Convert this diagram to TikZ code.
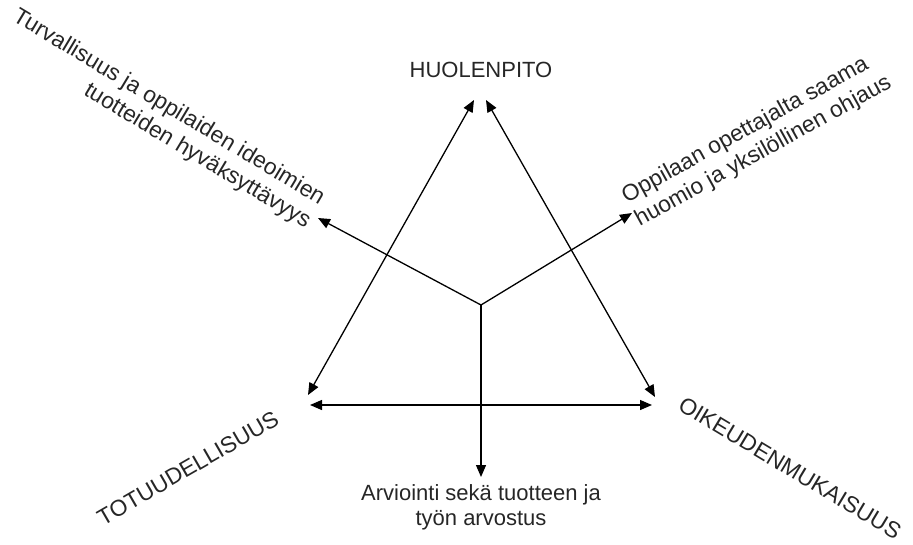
\documentclass[tikz,border=0pt]{standalone}
\usepackage{fontspec}
\setmainfont{Liberation Sans}
\usetikzlibrary{arrows.meta}

\begin{document}
\begin{tikzpicture}[x=1pt, y=-1pt, line width=1.3pt,
    tip/.style={-{Triangle[length=12pt,width=10pt]}},
    twotips/.style={{Triangle[length=12pt,width=10pt]}-{Triangle[length=12pt,width=10pt]}},
    lbl/.style={font={\fontsize{22}{27}\selectfont}, text=black!85, inner sep=0pt},
    slant/.style={lbl, font={\fontsize{22.8}{27}\selectfont}}]
    \useasboundingbox (0,0) rectangle (913,544);
    % triangle corners and arrow ends
    \coordinate (apexL) at (474,100);
    \coordinate (apexR) at (486,100);
    \coordinate (cornerL) at (308,395);
    \coordinate (cornerR) at (655,397);
    \coordinate (baseL) at (310,405);
    \coordinate (baseR) at (652,405);
    \coordinate (hub) at (481,305);
    \coordinate (safeEnd) at (318,218);
    \coordinate (guideEnd) at (632,213);
    \coordinate (assessEnd) at (481,477);
    % labels
    \node[lbl] (care) at (481,70) {HUOLENPITO};
    \node[slant, rotate=30] (truth) at (188,468) {TOTUUDELLISUUS};
    \node[slant, rotate=-31] (fair) at (790,468) {OIKEUDENMUKAISUUS};
    \node[slant, rotate=-31, align=right, anchor=east] (safe) at (316,212)
        {Turvallisuus ja oppilaiden ideoimien\\tuotteiden hyväksyttävyys};
    \node[slant, rotate=29, align=left, anchor=west] (guide) at (630,210)
        {Oppilaan opettajalta saama\\huomio ja yksilöllinen ohjaus};
    \node[lbl, align=center, anchor=north, font={\fontsize{22}{25}\selectfont}] (assess) at (481,484)
        {Arviointi sekä tuotteen ja\\työn arvostus};
    % arrows
    \draw[twotips] (cornerL) -- (apexL);
    \draw[twotips] (cornerR) -- (apexR);
    \draw[twotips] (baseL) -- (baseR);
    \draw[tip] (hub) -- (safeEnd);
    \draw[tip] (hub) -- (guideEnd);
    \draw[tip] (hub) -- (assessEnd);
\end{tikzpicture}
\end{document}
